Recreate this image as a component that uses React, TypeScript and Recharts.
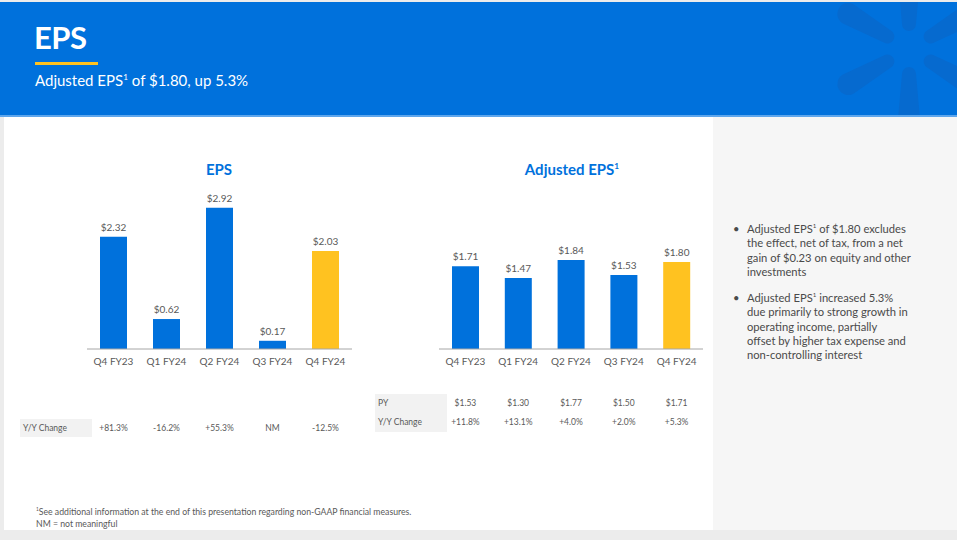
import React from "react";
import { BarChart, Bar, XAxis, YAxis, Cell, LabelList } from "recharts";

const quarters = ["Q4 FY23", "Q1 FY24", "Q2 FY24", "Q3 FY24", "Q4 FY24"];
const epsValues = [2.32, 0.62, 2.92, 0.17, 2.03];
const adjEpsValues = [1.71, 1.47, 1.84, 1.53, 1.8];
const epsYoY = ["+81.3%", "-16.2%", "+55.3%", "NM", "-12.5%"];
const adjPY = ["$1.53", "$1.30", "$1.77", "$1.50", "$1.71"];
const adjYoY = ["+11.8%", "+13.1%", "+4.0%", "+2.0%", "+5.3%"];

const BLUE = "#0071DC";
const YELLOW = "#FFC220";
const GREY_TXT = "#595959";
const FONT = "Lato, 'Open Sans', sans-serif";

const epsData = quarters.map((q, i) => ({ q, v: epsValues[i] }));
const adjData = quarters.map((q, i) => ({ q, v: adjEpsValues[i] }));

// eslint-disable-next-line @typescript-eslint/no-explicit-any
const EpsTick = (props: any) => {
  const { x, y, payload, index } = props;
  return (
    <g fontFamily={FONT} fill={GREY_TXT}>
      <text x={x} y={y + 16} textAnchor="middle" fontSize={10}>
        {payload.value}
      </text>
      <text x={x} y={y + 82} textAnchor="middle" fontSize={8.5}>
        {epsYoY[index]}
      </text>
    </g>
  );
};

// eslint-disable-next-line @typescript-eslint/no-explicit-any
const AdjTick = (props: any) => {
  const { x, y, payload, index } = props;
  return (
    <g fontFamily={FONT} fill={GREY_TXT}>
      <text x={x} y={y + 16} textAnchor="middle" fontSize={10}>
        {payload.value}
      </text>
      <text x={x} y={y + 57} textAnchor="middle" fontSize={8.5}>
        {adjPY[index]}
      </text>
      <text x={x} y={y + 76} textAnchor="middle" fontSize={8.5}>
        {adjYoY[index]}
      </text>
    </g>
  );
};

// eslint-disable-next-line @typescript-eslint/no-explicit-any
const fmt = (v: any) => `$${Number(v).toFixed(2)}`;

function Spark() {
  const petals = [-90, -150, 150, 90, 30, -30];
  return (
    <svg width={957} height={113} style={{ position: "absolute", left: 0, top: 0 }}>
      {petals.map((a) => (
        <g key={a} transform={`translate(909,47) rotate(${a})`}>
          <path
            d="M25,-7 L70,-11 A11,11 0 0 1 70,11 L25,7 A7,7 0 0 1 25,-7 Z"
            fill="#066ACF"
          />
        </g>
      ))}
    </svg>
  );
}

function EpsChart({
  data,
  tick,
  left,
  width,
  marginLeft,
  marginRight,
}: {
  data: { q: string; v: number }[];
  // eslint-disable-next-line @typescript-eslint/no-explicit-any
  tick: any;
  left: number;
  width: number;
  marginLeft: number;
  marginRight: number;
}) {
  return (
    <div style={{ position: "absolute", left, top: 180 }}>
      <BarChart
        width={width}
        height={260}
        data={data}
        margin={{ top: 24, right: marginRight, left: marginLeft, bottom: 70 }}
      >
        <YAxis hide domain={[0, 3]} />
        <XAxis
          dataKey="q"
          height={21}
          interval={0}
          tickLine={false}
          tickSize={0}
          tickMargin={0}
          axisLine={{ stroke: "#a6a6a6" }}
          tick={tick}
        />
        <Bar dataKey="v" barSize={27} isAnimationActive={false}>
          {data.map((_, i) => (
            <Cell key={`c-${i}`} fill={i === data.length - 1 ? YELLOW : BLUE} />
          ))}
          <LabelList
            dataKey="v"
            position="top"
            offset={6}
            formatter={fmt}
            fill={GREY_TXT}
            fontSize={10}
            fontFamily={FONT}
          />
        </Bar>
      </BarChart>
    </div>
  );
}

const sup = { fontSize: "0.55em", verticalAlign: "super", lineHeight: 0 } as const;

export default function App() {
  return (
    <div
      style={{
        position: "absolute",
        left: 0,
        top: 0,
        width: 957,
        height: 540,
        background: "#ECECEC",
        fontFamily: FONT,
        overflow: "hidden",
      }}
    >
      {/* header */}
      <div
        style={{
          position: "absolute",
          left: 0,
          top: 2,
          width: 957,
          height: 113,
          background: BLUE,
          borderBottom: "2px solid #5EA6EC",
          overflow: "hidden",
        }}
      >
        <Spark />
        <div
          style={{
            position: "absolute",
            left: 34,
            top: 16,
            fontSize: 31,
            fontWeight: 700,
            color: "#fff",
            letterSpacing: -0.5,
          }}
        >
          EPS
        </div>
        <div style={{ position: "absolute", left: 35, top: 60, width: 63, height: 3, background: YELLOW }} />
        <div style={{ position: "absolute", left: 35, top: 69, fontSize: 15, color: "#fff", lineHeight: "18px" }}>
          Adjusted EPS<span style={sup}>1</span> of $1.80, up 5.3%
        </div>
      </div>

      {/* panels */}
      <div style={{ position: "absolute", left: 4, top: 117, width: 709, height: 413, background: "#fff" }} />
      <div style={{ position: "absolute", left: 713, top: 117, width: 244, height: 413, background: "#F6F6F6" }} />

      {/* chart titles */}
      <div
        style={{
          position: "absolute",
          left: 169,
          top: 160,
          width: 100,
          textAlign: "center",
          fontSize: 15,
          fontWeight: 700,
          color: BLUE,
          lineHeight: "18px",
        }}
      >
        EPS
      </div>
      <div
        style={{
          position: "absolute",
          left: 492,
          top: 160,
          width: 160,
          textAlign: "center",
          fontSize: 15,
          fontWeight: 700,
          color: BLUE,
          lineHeight: "18px",
        }}
      >
        Adjusted EPS<span style={sup}>1</span>
      </div>

      <EpsChart data={epsData} tick={EpsTick} left={0} width={370} marginLeft={87} marginRight={18} />
      <EpsChart data={adjData} tick={AdjTick} left={370} width={340} marginLeft={69} marginRight={7} />

      {/* table labels */}
      <div
        style={{
          position: "absolute",
          left: 20,
          top: 419,
          width: 69,
          height: 18,
          paddingLeft: 3,
          background: "#F2F2F2",
          fontSize: 8.5,
          lineHeight: "18px",
          color: GREY_TXT,
        }}
      >
        Y/Y Change
      </div>
      <div
        style={{
          position: "absolute",
          left: 375,
          top: 394,
          width: 69,
          height: 38,
          paddingLeft: 3,
          background: "#F2F2F2",
          fontSize: 8.5,
          lineHeight: "19px",
          color: GREY_TXT,
        }}
      >
        PY
        <br />
        Y/Y Change
      </div>

      {/* commentary */}
      <div style={{ position: "absolute", left: 733, top: 222, width: 222, fontSize: 11.2, lineHeight: "14.3px", color: "#4a4a4a" }}>
        <div style={{ position: "relative", paddingLeft: 14 }}>
          <span style={{ position: "absolute", left: 0 }}>•</span>
          Adjusted EPS<span style={sup}>1</span> of $1.80 excludes
          <br />
          the effect, net of tax, from a net
          <br />
          gain of $0.23 on equity and other
          <br />
          investments
        </div>
        <div style={{ position: "relative", paddingLeft: 14, marginTop: 12 }}>
          <span style={{ position: "absolute", left: 0 }}>•</span>
          Adjusted EPS<span style={sup}>1</span> increased 5.3%
          <br />
          due primarily to strong growth in
          <br />
          operating income, partially
          <br />
          offset by higher tax expense and
          <br />
          non-controlling interest
        </div>
      </div>

      {/* footnote */}
      <div style={{ position: "absolute", left: 36, top: 506, fontSize: 8.7, lineHeight: "12px", color: GREY_TXT }}>
        <span style={sup}>1</span>See additional information at the end of this presentation regarding non-GAAP financial
        measures.
        <br />
        NM = not meaningful
      </div>
    </div>
  );
}
